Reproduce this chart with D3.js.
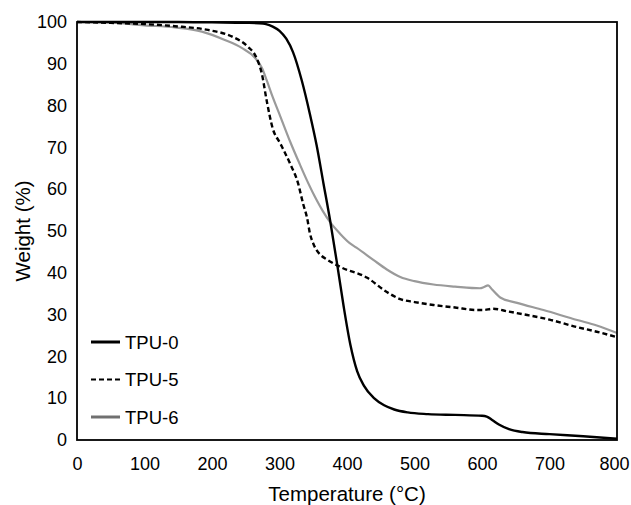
<!DOCTYPE html>
<html>
<head>
<meta charset="utf-8">
<script src="https://cdn.jsdelivr.net/npm/d3@7"></script>
<style>
    body { margin: 0; background: #fff; }
    text { font-family: 'Liberation Sans', Arial, sans-serif; fill: #000; }
</style>
</head>
<body>
<div id="chart"></div>
<script>
// TGA curves
const tpu0Temp = [0, 50, 100, 150, 200, 250, 270, 280, 290, 300, 310, 320, 333, 345, 355, 365, 375, 385, 395, 405, 415, 425, 440, 455, 470, 490, 520, 560, 600, 607, 615, 625, 640, 660, 700, 750, 800];
const tpu0Weight = [100, 100, 100, 100, 99.9, 99.8, 99.7, 99.5, 98.9, 97.9, 96, 92.8, 86, 78, 70.5, 61.5, 52.5, 42.5, 32, 22.8, 16.5, 13, 10, 8.3, 7.3, 6.6, 6.2, 6.0, 5.8, 5.6, 4.8, 3.7, 2.6, 1.9, 1.4, 0.9, 0.3];

const tpu5Temp = [0, 50, 100, 145, 194, 230, 253, 266, 274, 281, 290, 301, 316, 327, 335, 341, 345, 350, 355, 362, 370, 390, 430, 459, 479, 500, 528, 560, 592, 602, 616, 640, 667, 700, 741, 770, 800];
const tpu5Weight = [100, 99.8, 99.5, 99.0, 98.1, 96.5, 94.1, 91.4, 87.5, 81.2, 74.5, 71, 66, 61.7, 56.5, 53, 49.5, 47, 45.4, 44.1, 43.2, 41.4, 38.8, 35.4, 33.7, 33.0, 32.3, 31.7, 31.1, 31.1, 31.4, 30.7, 29.9, 28.8, 27.0, 25.9, 24.6];

const tpu6Temp = [0, 46, 100, 145, 185, 219, 244, 264, 274, 281, 290, 301, 316, 330, 341, 355, 364, 375, 390, 404, 414, 439, 459, 479, 500, 528, 560, 597, 603, 609, 615, 627, 652, 691, 741, 770, 800];
const tpu6Weight = [100, 99.9, 99.2, 98.7, 97.7, 95.7, 93.8, 91.4, 89, 86.1, 82, 77.5, 71.3, 66, 62.0, 57.4, 54.8, 52.1, 49.3, 47.1, 46.0, 43.1, 40.8, 39.0, 38.0, 37.2, 36.7, 36.3, 36.6, 37.0, 36.0, 34.1, 32.8, 31.1, 28.7, 27.4, 25.6];

const seriesNames = ['TPU-0', 'TPU-5', 'TPU-6'];
const xTicks = [0, 100, 200, 300, 400, 500, 600, 700, 800];
const yTicks = [0, 10, 20, 30, 40, 50, 60, 70, 80, 90, 100];

const width = 631;
const height = 505;
const margin = { top: 22, right: 14, bottom: 65, left: 77 };
const innerW = width - margin.left - margin.right;
const innerH = height - margin.top - margin.bottom;

const series = [
    { name: seriesNames[0], temp: tpu0Temp, weight: tpu0Weight, color: '#000', legendColor: '#000', dash: null, legendDash: null },
    { name: seriesNames[1], temp: tpu5Temp, weight: tpu5Weight, color: '#000', legendColor: '#000', dash: '5,3', legendDash: '5,3' },
    { name: seriesNames[2], temp: tpu6Temp, weight: tpu6Weight, color: '#9a9a9a', legendColor: '#707070', dash: null, legendDash: null }
];

const svg = d3.select('#chart')
    .append('svg')
    .attr('width', width)
    .attr('height', height);

const chart = svg.append('g')
    .attr('transform', `translate(${margin.left},${margin.top})`);

const x = d3.scaleLinear()
    .domain([0, 800])
    .range([0, innerW]);

const y = d3.scaleLinear()
    .domain([0, 100])
    .range([innerH, 0]);

// axes without tick marks, the frame is drawn separately
const xAxis = d3.axisBottom(x).tickValues(xTicks).tickSize(0).tickPadding(17);
const yAxis = d3.axisLeft(y).tickValues(yTicks).tickSize(0).tickPadding(10);

chart.append('g')
    .attr('class', 'x-axis')
    .attr('transform', `translate(0,${innerH})`)
    .call(xAxis);

chart.append('g')
    .attr('class', 'y-axis')
    .call(yAxis);

chart.selectAll('.domain').remove();
chart.selectAll('.tick text')
    .style('font-family', "'Liberation Sans', Arial, sans-serif")
    .style('font-size', '18px')
    .attr('fill', '#000');

// last label sits a little left so it stays inside the picture
chart.selectAll('.x-axis .tick text')
    .filter(d => d === 800)
    .attr('dx', -3);

const line = d3.line()
    .x(d => x(d[0]))
    .y(d => y(d[1]))
    .curve(d3.curveMonotoneX);

// draw gray first so the black curves sit on top
[series[2], series[1], series[0]].forEach(s => {
    chart.append('path')
        .datum(d3.zip(s.temp, s.weight))
        .attr('fill', 'none')
        .attr('stroke', s.color)
        .attr('stroke-width', s.name === 'TPU-6' ? 2.2 : 2.4)
        .attr('stroke-dasharray', s.dash)
        .attr('d', line);
});

chart.append('rect')
    .attr('x', 0)
    .attr('y', 0)
    .attr('width', innerW)
    .attr('height', innerH)
    .attr('fill', 'none')
    .attr('stroke', '#000')
    .attr('stroke-width', 1.8);

// legend
const legend = chart.append('g')
    .attr('transform', `translate(14,${320})`);

series.forEach((s, i) => {
    const ly = i * 37.5;
    legend.append('line')
        .attr('x1', 0)
        .attr('x2', 29)
        .attr('y1', ly)
        .attr('y2', ly)
        .attr('stroke', s.legendColor)
        .attr('stroke-width', s.legendDash ? 2 : 3)
        .attr('stroke-dasharray', s.legendDash);
    legend.append('text')
        .attr('x', 34)
        .attr('y', ly)
        .attr('dy', '0.36em')
        .style('font-size', '18.5px')
        .text(s.name);
});

chart.append('text')
    .attr('class', 'x-label')
    .attr('text-anchor', 'middle')
    .attr('x', innerW / 2)
    .attr('y', innerH + 61)
    .style('font-size', '20.5px')
    .text('Temperature (°C)');

chart.append('text')
    .attr('class', 'y-label')
    .attr('text-anchor', 'middle')
    .attr('transform', 'rotate(-90)')
    .attr('x', -innerH / 2)
    .attr('y', -margin.left + 30)
    .style('font-size', '20.5px')
    .text('Weight (%)');
</script>
</body>
</html>
